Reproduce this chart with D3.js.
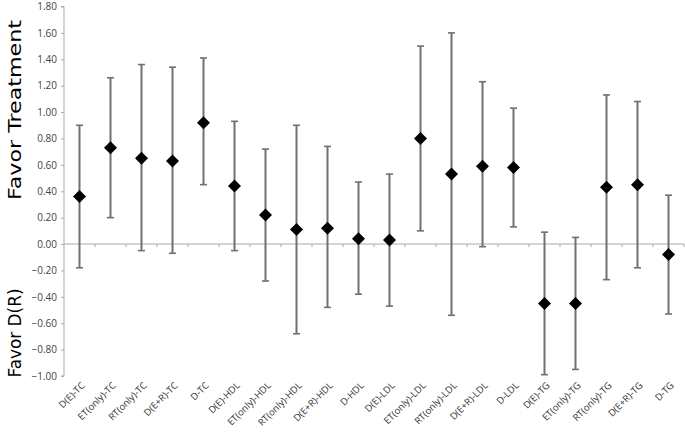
<!DOCTYPE html>
<html>
<head>
<meta charset="utf-8">
<script src="https://cdn.jsdelivr.net/npm/d3@7"></script>
<style>
body { margin: 0; background: #fff; }
.tick text { font-family: "Open Sans", sans-serif; fill: #444; }
</style>
</head>
<body>
<svg class="chart" width="685" height="432"></svg>
<script>
var categories = ['D(E)-TC', 'ET(only)-TC', 'RT(only)-TC', 'D(E+R)-TC', 'D-TC',
    'D(E)-HDL', 'ET(only)-HDL', 'RT(only)-HDL', 'D(E+R)-HDL', 'D-HDL',
    'D(E)-LDL', 'ET(only)-LDL', 'RT(only)-LDL', 'D(E+R)-LDL', 'D-LDL',
    'D(E)-TG', 'ET(only)-TG', 'RT(only)-TG', 'D(E+R)-TG', 'D-TG']

var estimates = [0.36, 0.73, 0.65, 0.63, 0.92, 0.44, 0.22, 0.11, 0.12, 0.04,
    0.03, 0.80, 0.53, 0.59, 0.58, -0.45, -0.45, 0.43, 0.45, -0.08]
var upper = [0.90, 1.26, 1.36, 1.34, 1.41, 0.93, 0.72, 0.90, 0.74, 0.47,
    0.53, 1.50, 1.60, 1.23, 1.03, 0.09, 0.05, 1.13, 1.08, 0.37]
var lower = [-0.18, 0.20, -0.05, -0.07, 0.45, -0.05, -0.28, -0.68, -0.48, -0.38,
    -0.47, 0.10, -0.54, -0.02, 0.13, -0.99, -0.95, -0.27, -0.18, -0.53]

var yTicks = [-1.0, -0.8, -0.6, -0.4, -0.2, 0, 0.2, 0.4, 0.6, 0.8, 1.0, 1.2, 1.4, 1.6, 1.8]

var data = categories.map((c, i) => {
    return {name: c, est: estimates[i], hi: upper[i], lo: lower[i]}
})

var svg = d3.select('.chart')

var xScale = d3.scaleBand().domain(categories).range([64, 684])
var yScale = d3.scaleLinear().domain([-1, 1.8]).range([376, 6.5])

// y axis
var yAxis = d3.axisLeft(yScale).tickValues(yTicks).tickFormat(d3.format('.2f')).tickSize(3).tickPadding(4)
var yG = svg.append('g').attr('transform', 'translate(64, 0)').call(yAxis)
yG.select('.domain').attr('stroke', '#aaa').attr('d', 'M-3,' + yScale(-1) + 'H0V' + yScale(1.8) + 'H-3')
yG.selectAll('.tick line').attr('stroke', '#aaa')
yG.selectAll('.tick text').style('font-size', '10px')

// x axis along zero, labels at the bottom
var xAxis = d3.axisBottom(xScale).tickSize(0).tickFormat('')
var xG = svg.append('g').attr('transform', 'translate(0,' + yScale(0) + ')').call(xAxis)
xG.select('.domain').attr('stroke', '#aaa').attr('d', 'M64,0H684')
xG.selectAll('.bound').data(categories.slice(1).concat(['end']))
    .enter()
    .append('line')
    .attr('class', 'bound')
    .attr('x1', (d, i) => 64 + (i + 1) * xScale.bandwidth())
    .attr('x2', (d, i) => 64 + (i + 1) * xScale.bandwidth())
    .attr('y1', 0)
    .attr('y2', 3)
    .attr('stroke', '#aaa')

svg.selectAll('.xlabel').data(categories)
    .enter()
    .append('text')
    .attr('class', 'xlabel')
    .text(d => d)
    .attr('text-anchor', 'end')
    .attr('transform', d => 'translate(' + (xScale(d) + xScale.bandwidth() / 2 + 6) + ', 386) rotate(-45)')
    .style('font-family', '"Open Sans", sans-serif')
    .style('font-size', '9.5px')
    .style('text-rendering', 'geometricPrecision')
    .style('fill', '#333')

// error bars
var bars = svg.selectAll('.bar').data(data)
    .enter()
    .append('g')
    .attr('class', 'bar')
    .attr('transform', d => 'translate(' + (xScale(d.name) + xScale.bandwidth() / 2) + ', 0)')

bars.append('line')
    .attr('y1', d => yScale(d.hi))
    .attr('y2', d => yScale(d.lo))
    .attr('stroke', '#707070')
    .attr('stroke-width', 2)

bars.selectAll('.cap').data(d => [d.hi, d.lo])
    .enter()
    .append('line')
    .attr('class', 'cap')
    .attr('x1', -3.5)
    .attr('x2', 3.5)
    .attr('y1', d => yScale(d))
    .attr('y2', d => yScale(d))
    .attr('stroke', '#707070')
    .attr('stroke-width', 1.6)

bars.append('path')
    .attr('d', 'M0,-6.5L6.5,0L0,6.5L-6.5,0Z')
    .attr('transform', d => 'translate(0,' + yScale(d.est) + ')')
    .attr('fill', '#000')

// axis titles
svg.append('text')
    .text('Favor Treatment')
    .attr('text-anchor', 'middle')
    .attr('textLength', 180)
    .attr('lengthAdjust', 'spacingAndGlyphs')
    .attr('transform', 'translate(21, 110) rotate(-90)')
    .style('font-family', '"DejaVu Sans", sans-serif')
    .style('font-size', '17.5px')
    .style('fill', '#000')

svg.append('text')
    .text('Favor D(R)')
    .attr('text-anchor', 'middle')
    .attr('textLength', 89)
    .attr('lengthAdjust', 'spacingAndGlyphs')
    .attr('transform', 'translate(21, 333) rotate(-90)')
    .style('font-family', '"DejaVu Sans", sans-serif')
    .style('font-size', '17.5px')
    .style('fill', '#000')
</script>
</body>
</html>
